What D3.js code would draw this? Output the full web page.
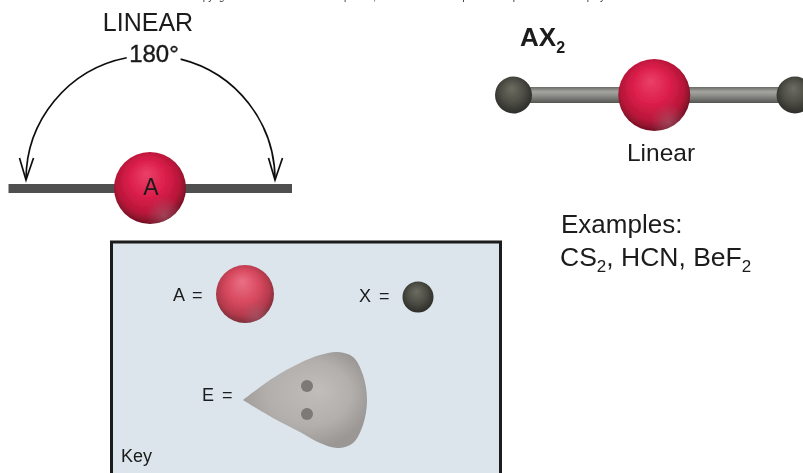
<!DOCTYPE html>
<html>
<head>
<meta charset="utf-8">
<script src="https://cdn.jsdelivr.net/npm/d3@7"></script>
<style>
  html, body { margin: 0; padding: 0; background: #fff; overflow: hidden; }
  svg { display: block; }
  text { font-family: "Liberation Sans", Arial, sans-serif; fill: #1a1a1a; }
</style>
</head>
<body>
<script>
// Data
var bondAngle = 180;
var arcPieces = [[0, 79], [104, 180]];      // degrees, gap is where the 180 label sits
var moleculeLabels = ["X", "A", "X"];
var moleculeSlots = [-1, 0, 1];
var keyLabels = ["A =", "X =", "E =", "Key"];
var exampleFormulas = [["CS", "2"], [", HCN, BeF", "2"]];
// outline of the lone pair lobe, tip first and tip last
var lobeX = [0, 30, 57, 77, 95, 110, 120, 124, 120, 110, 95, 77, 57, 30, 0];
var lobeY = [0, -22, -37, -45, -48, -43, -25, 0, 25, 43, 48, 43, 32, 18, 0];
var lobeDots = [-14, 14];

var svgWidth = 803;
var svgHeight = 473;

var svg = d3.select("body").append("svg")
    .attr("width", svgWidth)
    .attr("height", svgHeight);

var defs = svg.append("defs");

defs.append("filter").attr("id", "soft")
    .append("feGaussianBlur").attr("stdDeviation", 0.45);

function radial(id, fx, fy, stops) {
    var g = defs.append("radialGradient").attr("id", id)
        .attr("cx", "48%").attr("cy", "45%").attr("r", "56%")
        .attr("fx", fx).attr("fy", fy);
    stops.forEach(function(s) {
        g.append("stop").attr("offset", s[0]).attr("stop-color", s[1]);
    });
}
radial("redAtom", "45%", "30%", [["0%", "#ea4068"], ["45%", "#dc1f4c"], ["78%", "#b81639"], ["100%", "#6d0f22"]]);
radial("redKey", "45%", "28%", [["0%", "#ea7084"], ["50%", "#d84a60"], ["80%", "#b53a4c"], ["100%", "#7a2c38"]]);
radial("greyAtom", "45%", "32%", [["0%", "#6c6c62"], ["55%", "#4e4e46"], ["100%", "#2c2c28"]]);
radial("lobeFill", "62%", "40%", [["0%", "#c0bdba"], ["60%", "#b2afac"], ["100%", "#9a9795"]]);

var bounce = defs.append("radialGradient").attr("id", "bounce")
    .attr("cx", "70%").attr("cy", "88%").attr("r", "26%");
bounce.append("stop").attr("offset", "0%").attr("stop-color", "#a85a6c").attr("stop-opacity", 0.65);
bounce.append("stop").attr("offset", "100%").attr("stop-color", "#a85a6c").attr("stop-opacity", 0);

var bondShade = defs.append("linearGradient").attr("id", "bondShade")
    .attr("x1", 0).attr("x2", 0).attr("y1", 0).attr("y2", 1);
[["0%", "#6a6a66"], ["30%", "#a5a5a1"], ["55%", "#8c8c88"], ["100%", "#555551"]].forEach(function(s) {
    bondShade.append("stop").attr("offset", s[0]).attr("stop-color", s[1]);
});

var chart = svg.append("g").attr("filter", "url(#soft)");

function label(parent, x, y, size, str, opts) {
    opts = opts || {};
    return parent.append("text")
        .attr("x", x).attr("y", y)
        .attr("font-size", size)
        .attr("font-weight", opts.weight || "normal")
        .attr("text-anchor", opts.anchor || "start")
        .text(str);
}

function sphere(parent, cx, cy, r, fill, glow) {
    parent.append("circle").attr("cx", cx).attr("cy", cy).attr("r", r).attr("fill", "url(#" + fill + ")");
    if (glow) {
        parent.append("circle").attr("cx", cx).attr("cy", cy).attr("r", r).attr("fill", "url(#bounce)");
    }
}

// copyright line, cut by the top edge
label(chart, 190, 0, 10, "Copyright \u00a9 The McGraw-Hill Companies, Inc. Permission required for reproduction or display.")
    .style("fill", "#333");

// Left diagram: bond angle
// ==========================================
var angleGroup = chart.append("g").attr("transform", "translate(150.5,180)");
var angleScale = d3.scaleLinear().domain([0, bondAngle]).range([-Math.PI / 2, Math.PI / 2]);
var arcRadius = 124.5;
var arcGen = d3.arc().innerRadius(arcRadius).outerRadius(arcRadius);

angleGroup.selectAll("path.sweep")
    .data(arcPieces)
    .enter()
    .append("path")
    .attr("class", "sweep")
    .attr("d", function(d) {
        return arcGen({ startAngle: angleScale(d[0]), endAngle: angleScale(d[1]) });
    })
    .attr("fill", "none")
    .attr("stroke", "#111")
    .attr("stroke-width", 1.7);

// arrow heads
[0, bondAngle].forEach(function(a) {
    var tipX = arcRadius * Math.sin(angleScale(a));
    angleGroup.append("path")
        .attr("d", "M" + (tipX - 6.5) + ",-22 L" + tipX + ",0 L" + (tipX + 7.5) + ",-22")
        .attr("fill", "none")
        .attr("stroke", "#111")
        .attr("stroke-width", 1.7);
});

chart.append("rect")
    .attr("x", 8.5).attr("y", 184)
    .attr("width", 283.5).attr("height", 9)
    .attr("fill", "#4f4f4f");
sphere(chart, 150, 188, 36, "redAtom", true);

label(chart, 151, 195, 23, "A", { anchor: "middle" });
label(chart, 148, 31, 25, "LINEAR", { anchor: "middle" });
label(chart, 154, 62, 24, bondAngle + "\u00b0", { anchor: "middle" }).style("stroke", "#1a1a1a").style("stroke-width", 0.4);

// Right diagram: AX2 molecule
// ==========================================
var slotScale = d3.scaleLinear().domain([-1, 1]).range([513.5, 795]);
var moleculeY = 95;

chart.append("rect")
    .attr("x", slotScale(-1)).attr("y", moleculeY - 8)
    .attr("width", slotScale(1) - slotScale(-1)).attr("height", 16)
    .attr("fill", "url(#bondShade)");

moleculeSlots.forEach(function(slot, i) {
    if (moleculeLabels[i] === "A") {
        sphere(chart, slotScale(slot), moleculeY, 36, "redAtom", true);
    } else {
        sphere(chart, slotScale(slot), moleculeY, 18.5, "greyAtom", false);
    }
});

var ax = label(chart, 520, 46, 26, "AX", { weight: "bold" });
ax.append("tspan").attr("dy", 6.5).attr("font-size", 16).text("2");

label(chart, 661, 161, 24.5, "Linear", { anchor: "middle" });

label(chart, 561, 233, 26, "Examples:");
var formula = label(chart, 560, 266, 26.5, "");
exampleFormulas.forEach(function(part, i) {
    formula.append("tspan").attr("dy", i === 0 ? 0 : -6).text(part[0]);
    formula.append("tspan").attr("dy", 6).attr("font-size", 17).text(part[1]);
});

// Key box
// ==========================================
chart.append("rect")
    .attr("x", 111.5).attr("y", 242)
    .attr("width", 389).attr("height", 240)
    .attr("fill", "#dbe5eb")
    .attr("stroke", "#1c1c1c")
    .attr("stroke-width", 3);

sphere(chart, 245, 294, 29, "redKey", true);
sphere(chart, 418, 297, 15.5, "greyAtom", false);

// lone pair lobe
var lobeScaleX = d3.scaleLinear().domain([0, 124]).range([243, 367]);
var lobeScaleY = d3.scaleLinear().domain([-48, 48]).range([352, 448]);
var lobeLine = d3.line()
    .x(function(d) { return lobeScaleX(d[0]); })
    .y(function(d) { return lobeScaleY(d[1]); })
    .curve(d3.curveCatmullRom.alpha(0.5));

chart.append("path")
    .attr("d", lobeLine(d3.zip(lobeX, lobeY)))
    .attr("fill", "url(#lobeFill)");

chart.selectAll("circle.dot")
    .data(lobeDots)
    .enter()
    .append("circle")
    .attr("class", "dot")
    .attr("cx", lobeScaleX(64))
    .attr("cy", function(d) { return lobeScaleY(d); })
    .attr("r", 6)
    .attr("fill", "#7b7977");

label(chart, 173, 301, 18, keyLabels[0]).style("word-spacing", "3px");
label(chart, 359, 302, 18, keyLabels[1]).style("word-spacing", "3px");
label(chart, 202, 401, 18, keyLabels[2]).style("word-spacing", "3px");
label(chart, 121, 462, 18, keyLabels[3]);
</script>
</body>
</html>
